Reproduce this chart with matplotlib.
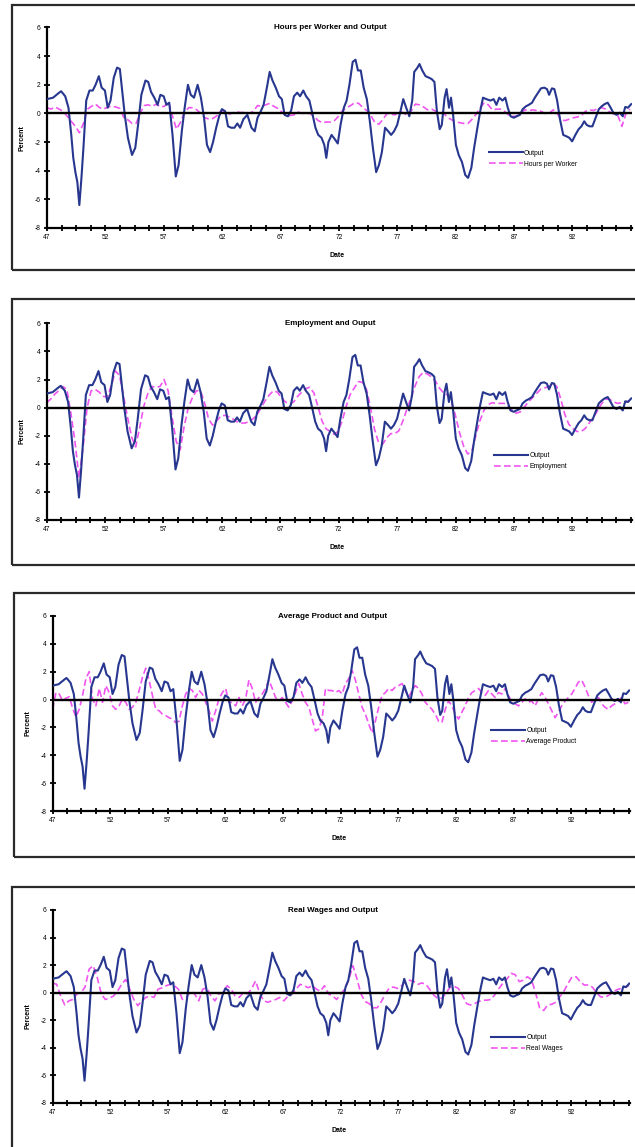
import numpy as np
import matplotlib
matplotlib.use("Agg")
import matplotlib.pyplot as plt
from matplotlib.patches import Rectangle

plt.rcParams['font.family'] = ['Liberation Sans', 'DejaVu Sans']

# ---------------- data ----------------
output_dates = [1947.00, 1947.52, 1948.04, 1948.21, 1948.56, 1948.84, 1949.08, 1949.25, 1949.43, 1949.60,
                1949.77, 1949.95, 1950.12, 1950.36, 1950.64, 1950.92, 1951.16, 1951.44, 1951.68, 1951.96,
                1952.20, 1952.44, 1952.72, 1953.00, 1953.24, 1953.41, 1953.66, 1953.93, 1954.28, 1954.56,
                1954.80, 1955.08, 1955.43, 1955.67, 1955.91, 1956.19, 1956.47, 1956.71, 1956.99, 1957.23,
                1957.47, 1957.75, 1958.03, 1958.27, 1958.55, 1958.79, 1959.07, 1959.31, 1959.59, 1959.90,
                1960.18, 1960.45, 1960.70, 1960.97, 1961.22, 1961.49, 1961.74, 1961.98, 1962.26, 1962.50,
                1962.78, 1963.05, 1963.30, 1963.54, 1963.82, 1964.16, 1964.51, 1964.79, 1965.03, 1965.31,
                1965.55, 1965.83, 1966.07, 1966.31, 1966.59, 1966.87, 1967.11, 1967.35, 1967.63, 1967.91,
                1968.15, 1968.43, 1968.67, 1968.95, 1969.19, 1969.47, 1969.71, 1969.99, 1970.23, 1970.51,
                1970.75, 1970.92, 1971.10, 1971.37, 1971.65, 1971.90, 1972.14, 1972.42, 1972.66, 1972.90,
                1973.18, 1973.42, 1973.63, 1973.87, 1974.12, 1974.39, 1974.64, 1974.91, 1975.19, 1975.43,
                1975.68, 1975.95, 1976.23, 1976.47, 1976.72, 1976.99, 1977.27, 1977.51, 1977.76, 1978.03,
                1978.28, 1978.45, 1978.73, 1978.90, 1979.14, 1979.42, 1979.70, 1979.94, 1980.18, 1980.39,
                1980.63, 1980.81, 1981.05, 1981.22, 1981.43, 1981.60, 1981.78, 1982.02, 1982.26, 1982.54,
                1982.82, 1983.06, 1983.34, 1983.58, 1983.86, 1984.10, 1984.34, 1984.62, 1984.97, 1985.25,
                1985.49, 1985.73, 1986.01, 1986.25, 1986.46, 1986.70, 1986.98, 1987.22, 1987.50, 1987.74,
                1988.02, 1988.26, 1988.54, 1988.78, 1989.06, 1989.30, 1989.58, 1989.82, 1990.00, 1990.24,
                1990.45, 1990.69, 1990.93, 1991.21, 1991.49, 1991.73, 1991.97, 1992.25, 1992.53, 1992.77,
                1993.01, 1993.22, 1993.46, 1993.71, 1993.98, 1994.26, 1994.51, 1994.75, 1995.02, 1995.27,
                1995.50, 1995.77, 1996.05, 1996.31, 1996.52, 1996.76, 1997.03]

output = [1.0, 1.1, 1.45, 1.55, 1.2, 0.4, -1.5, -3.1, -4.1, -4.8,
          -6.4, -4.5, -2.4, 0.9, 1.6, 1.6, 2.0, 2.6, 1.8, 1.6,
          0.4, 0.9, 2.5, 3.2, 3.1, 1.8, -0.1, -1.7, -2.9, -2.4,
          -0.8, 1.3, 2.3, 2.2, 1.5, 1.1, 0.6, 1.3, 1.2, 0.6,
          0.75, -1.5, -4.4, -3.6, -1.2, 0.4, 2.0, 1.3, 1.1, 2.0,
          1.1, -0.3, -2.2, -2.7, -2.0, -1.0, -0.2, 0.3, 0.15, -0.9,
          -1.0, -1.0, -0.7, -1.0, -0.4, -0.1, -1.0, -1.25, -0.3, 0.15,
          0.6, 1.8, 2.9, 2.3, 1.8, 1.2, 1.0, -0.1, -0.2, 0.2,
          1.2, 1.45, 1.2, 1.6, 1.2, 0.9, 0.05, -1.0, -1.5, -1.7,
          -2.2, -3.1, -2.0, -1.5, -1.8, -2.1, -0.8, 0.4, 0.9, 2.0,
          3.6, 3.75, 3.0, 3.0, 1.8, 1.0, -0.5, -2.4, -4.1, -3.6,
          -2.7, -1.0, -1.25, -1.5, -1.25, -0.8, 0.15, 1.0, 0.4, -0.2,
          0.9, 2.9, 3.2, 3.45, 3.0, 2.6, 2.5, 2.4, 2.2, 0.15,
          -1.1, -0.8, 1.1, 1.7, 0.4, 1.1, -0.1, -2.2, -2.9, -3.4,
          -4.3, -4.5, -3.8, -2.4, -1.0, 0.15, 1.1, 1.0, 0.9, 1.0,
          0.6, 1.1, 0.9, 1.1, 0.4, -0.2, -0.3, -0.2, -0.1, 0.3,
          0.5, 0.6, 0.75, 1.1, 1.45, 1.75, 1.8, 1.7, 1.3, 1.75,
          1.7, 0.9, -0.4, -1.5, -1.6, -1.7, -1.95, -1.5, -1.1, -0.9,
          -0.55, -0.8, -0.9, -0.9, -0.3, 0.3, 0.5, 0.65, 0.75, 0.4,
          0.05, -0.1, 0.05, -0.2, 0.45, 0.4, 0.65]

hours = [0.4, 0.3, 0.45, 0.3, 0.15, -0.2, -0.55, -0.9, -1.35, -0.7,
         0.3, 0.5, 0.65, 0.4, 0.3, 0.45, 0.5, 0.45, 0.35, -0.3,
         -0.45, -0.7, -0.7, 0.0, 0.55, 0.6, 0.5, 0.65, 0.45, 0.5,
         0.85, -0.2, -1.1, -0.6, 0.1, 0.4, 0.4, 0.25, 0.0, -0.3,
         -0.4, -0.35, -0.15, 0.2, 0.15, -0.05, 0.05, 0.1, 0.05, 0.1,
         0.0, 0.15, 0.55, 0.5, 0.6, 0.7, 0.5, 0.35, 0.1, -0.15,
         -0.15, -0.1, 0.1, 0.0, 0.0, 0.0, -0.25, -0.5, -0.65, -0.6,
         -0.6, -0.5, -0.2, 0.2, 0.4, 0.55, 0.75, 0.7, 0.4, 0.2,
         -0.15, -0.65, -0.75, -0.4, 0.0, -0.05, -0.1, 0.15, 0.05, -0.15,
         0.2, 0.65, 0.6, 0.45, 0.25, 0.3, 0.15, 0.1, 0.0, -0.3,
         -0.45, -0.6, -0.65, -0.7, -0.7, -0.4, -0.05, 0.4, 0.75, 0.6,
         0.25, 0.3, 0.3, 0.15, -0.1, -0.2, -0.2, 0.0, 0.25, 0.2,
         0.25, 0.2, 0.15, 0.0, 0.0, 0.25, 0.0, -0.45, -0.5, -0.4,
         -0.3, -0.25, -0.15, 0.15, 0.25, 0.2, 0.35, 0.4, 0.3, 0.1,
         -0.05, -0.15, -0.9, 0.0, 0.3]
hours_dates = np.linspace(1947.0, 1996.93, len(hours))

employment = [0.35, 0.6, 0.95, 1.2, 1.5, 1.3, -0.4, -2.4, -5.0, -2.85,
              0.0, 1.2, 1.3, 1.1, 0.8, 0.75, 1.6, 2.6, 2.3, 0.8,
              -0.7, -2.1, -2.8, -1.4, 0.1, 1.0, 1.5, 1.45, 1.5, 2.0,
              1.2, -0.7, -2.4, -3.0, -1.3, 0.0, 0.7, 1.2, 1.2, 0.35,
              -0.8, -1.25, -0.95, -0.6, -0.55, -0.65, -0.8, -1.0, -1.1, -1.1,
              -1.0, -0.8, -0.5, 0.0, 0.5, 0.9, 1.2, 1.1, 0.7, 0.4,
              0.25, 0.4, 0.8, 1.1, 1.35, 1.45, 1.05, 0.1, -0.95, -1.5,
              -1.7, -1.9, -1.7, -0.95, 0.1, 0.95, 1.4, 1.85, 1.8, 1.3,
              0.0, -1.55, -2.5, -2.6, -2.15, -1.85, -1.85, -1.65, -0.95, -0.1,
              0.7, 1.55, 2.2, 2.5, 2.4, 2.2, 1.9, 1.4, 1.05, 0.9,
              0.4, -0.6, -1.8, -2.75, -3.3, -3.1, -2.0, -0.95, -0.2, 0.2,
              0.35, 0.3, 0.3, 0.3, 0.1, -0.2, -0.4, -0.3, 0.05, 0.4,
              0.7, 1.0, 1.3, 1.4, 1.5, 1.7, 1.5, 0.6, -0.5, -1.2,
              -1.5, -1.7, -1.7, -1.5, -1.1, -0.7, -0.25, 0.25, 0.6, 0.6,
              0.4, 0.3, 0.35, 0.4, 0.5]
employment_dates = np.linspace(1947.0, 1996.9, len(employment))

avg_product = [-0.7, 0.5, 0.4, -0.1, 0.1, 0.2, -0.6, -1.25, -0.7, 0.3,
               1.5, 2.0, 0.05, -0.45, 0.8, -0.2, 1.0, 0.5, -0.45, -0.7,
               -0.45, 0.05, -0.2, -0.7, -0.55, -0.2, 0.65, 1.6, 2.25, 1.4,
               0.3, -0.7, -0.8, -1.05, -1.15, -1.3, -1.4, -1.65, -1.55, -0.45,
               0.4, 0.8, 0.65, 0.15, 0.65, 0.4, -0.2, -0.8, -1.55, -0.8,
               0.05, 0.5, 0.8, -0.2, -0.2, -0.45, 0.15, -0.45, 0.05, 1.4,
               0.8, -0.2, 0.15, 0.4, 0.8, 1.4, 0.8, 0.15, -0.1, 0.15,
               -0.2, -0.55, -0.1, 0.5, 1.15, 0.4, -0.2, -0.55, -1.4, -2.25,
               -2.1, -1.4, 0.8, 0.65,
               0.65, 0.5, 0.65, 0.4, 1.15, 1.5, 2.1, 1.4, 0.4, -0.55,
               -1.05, -1.75, -2.4, -1.55, -0.55, 0.3, 0.5, 0.8, 0.65, 0.9,
               1.0, 1.15, 0.65, 0.15, 0.65, 1.0, 0.8, 0.4, -0.2, -0.45,
               -0.7, -1.05, -1.55, -1.65, -0.7, -0.1, -0.45, -1.05, -1.4, -0.9,
               -0.45, 0.15, 0.5, 0.65, 0.8, 0.5, 0.3, 0.65, 0.4, 0.15,
               0.5, 0.4, 0.8, 0.3, -0.2, -0.3, -0.45, -0.2, 0.05, -0.2,
               -0.1, -0.45, 0.05, 0.5, 0.15, -0.3, -0.8, -1.3, -0.9, -0.45,
               -0.1, 0.15, 0.4, 0.8, 1.25, 1.4, 0.9, 0.3, -0.2, 0.05,
               0.15, -0.3, -0.55, -0.7, -0.45, -0.3, -0.1, 0.15, -0.3, -0.2]
avg_product_dates = np.linspace(1947.0, 1996.95, len(avg_product))

real_wages = [0.7, 0.6, -0.25, -0.9, -0.6, -0.5, -0.1, 0.0, 0.4, 1.7,
              1.95, 1.1, -0.1, -0.5, -0.4, -0.25, 0.1, 0.6, 0.95, 0.25,
              -0.5, -0.95, -0.6, -0.35, -0.25, -0.35, 0.25, 0.35, 0.5, 0.6,
              0.5, 0.25, -0.5, -0.35, 0.1, -0.1, -0.6, 0.25, 0.35, -0.25,
              -0.6, -0.1, 0.0, 0.5, 0.25, -0.25, -0.35, 0.0, -0.1, 0.25,
              0.85, 0.0, -0.6, -0.7, -0.6, -0.5, -0.35, -0.6, -0.25, -0.1,
              0.25, 0.6, 0.5, 0.35, 0.5, 0.25, 0.1, 0.5, -0.1, -0.25,
              -0.5, -0.1, 0.25, 0.95, 1.95, 1.0, -0.1, -0.65, -0.8, -1.1,
              -1.1, -0.65, -0.1, 0.35, 0.4, 0.3, 0.5, 0.8, 0.9, 0.8,
              0.6, 0.7, 0.6, 0.2, -0.2, -0.45, -0.4, 0.0, 0.4, 0.45,
              0.3, -0.2, -0.8, -0.9, -0.8, -0.65, -0.55, -0.55, -0.5, -0.15,
              0.3, 0.7, 1.0, 1.4, 1.3, 0.8, 0.9, 1.15, 0.95, 0.0,
              -1.1, -1.3, -0.9, -0.85, -0.7, -0.3, 0.1, 0.65, 1.15, 1.15,
              0.8, 0.55, 0.55, 0.4, 0.0, -0.3, -0.35, -0.2, 0.0, 0.2,
              0.3, 0.4, 0.5]
real_wages_dates = np.linspace(1947.0, 1997.0, len(real_wages))

titles = ["Hours per Worker and Output", "Employment and Ouput",
          "Average Product and Output", "Real Wages and Output"]
second_labels = ["Hours per Worker", "Employment", "Average Product", "Real Wages"]
second_series = [(hours_dates, hours), (employment_dates, employment),
                 (avg_product_dates, avg_product), (real_wages_dates, real_wages)]
x_tick_labels = ["47", "52", "57", "62", "67", "72", "77", "82", "87", "92"]
y_ticks = [-8, -6, -4, -2, 0, 2, 4, 6]

# ---------------- layout ----------------
W, H = 635, 1147
fig = plt.figure(figsize=(W / 100, H / 100), dpi=100)

def fx(px):
    return px / W

def fy(py):
    return 1 - py / H

# axes boxes in pixels: (left, top, right, bottom)
axes_px = [(47, 27.5, 632, 228), (46.6, 323.3, 632, 520),
           (52.6, 616, 630, 811), (52.6, 910, 630, 1102.7)]
# panel borders: (left, top, bottom)
box_px = [(12, 5, 270), (11.5, 299, 565), (14.2, 592.7, 856.7), (12, 886.7, 1160)]
legend_pos = [(0.755, 0.345), (0.765, 0.30), (0.76, 0.385), (0.76, 0.31)]

NAVY = "#27378f"
MAGENTA = "#f055f0"

for (l, b0, b1) in box_px:
    fig.patches.append(Rectangle((fx(l), fy(b1)), 1.2, fy(b0) - fy(b1),
                                 transform=fig.transFigure, fill=False,
                                 edgecolor="#2a2a2a", lw=1.6, zorder=0))

xticks = np.arange(1947.0, 1997.01, 1.25)
xlabels = []
for i, t in enumerate(xticks):
    if i % 4 == 0 and i // 4 < len(x_tick_labels):
        xlabels.append(x_tick_labels[i // 4])
    else:
        xlabels.append("")

for k in range(4):
    l, t, r, b = axes_px[k]
    ax = fig.add_axes([fx(l), fy(b), fx(r) - fx(l), fy(t) - fy(b)])
    ax.set_facecolor("none")
    ax.plot(output_dates, output, color=NAVY, lw=1.5, solid_joinstyle="round",
            label="Output", zorder=3)
    sd, sv = second_series[k]
    ax.plot(sd, sv, color=MAGENTA, lw=1.2, ls=(0, (4, 2)), label=second_labels[k], zorder=2)
    ax.axhline(0, color="black", lw=1.7, zorder=4)
    ax.set_xlim(1947.0, 1997.1)
    ax.set_ylim(-8, 6)
    for s in ["top", "right"]:
        ax.spines[s].set_visible(False)
    for s in ["left", "bottom"]:
        ax.spines[s].set_linewidth(1.6)
        ax.spines[s].set_color("black")
    ax.set_yticks(y_ticks)
    ax.set_yticklabels([str(v) for v in y_ticks])
    ax.set_xticks(xticks)
    ax.set_xticklabels(xlabels)
    ax.tick_params(axis="both", direction="inout", length=5, width=1.3,
                   labelsize=4.8, pad=2)
    ax.text(0.485, 1.0, titles[k], transform=ax.transAxes, ha="center", va="center",
            fontsize=5.8, fontweight="bold")
    ax.annotate("Date", xy=(0.496, 0), xycoords="axes fraction", xytext=(0, -20),
                textcoords="offset points", ha="center", va="center",
                fontsize=5.0, fontweight="bold")
    ax.annotate("Percent", xy=(0, 0.45), xycoords="axes fraction", xytext=(-18, 0),
                textcoords="offset points", ha="center", va="center", rotation=90,
                fontsize=5.0, fontweight="bold")
    ax.legend(loc="center left", bbox_to_anchor=legend_pos[k], frameon=False,
              fontsize=4.9, handlelength=5.0, handletextpad=0.15, labelspacing=0.6,
              borderpad=0, borderaxespad=0)

fig.savefig("out.png", dpi=100)
